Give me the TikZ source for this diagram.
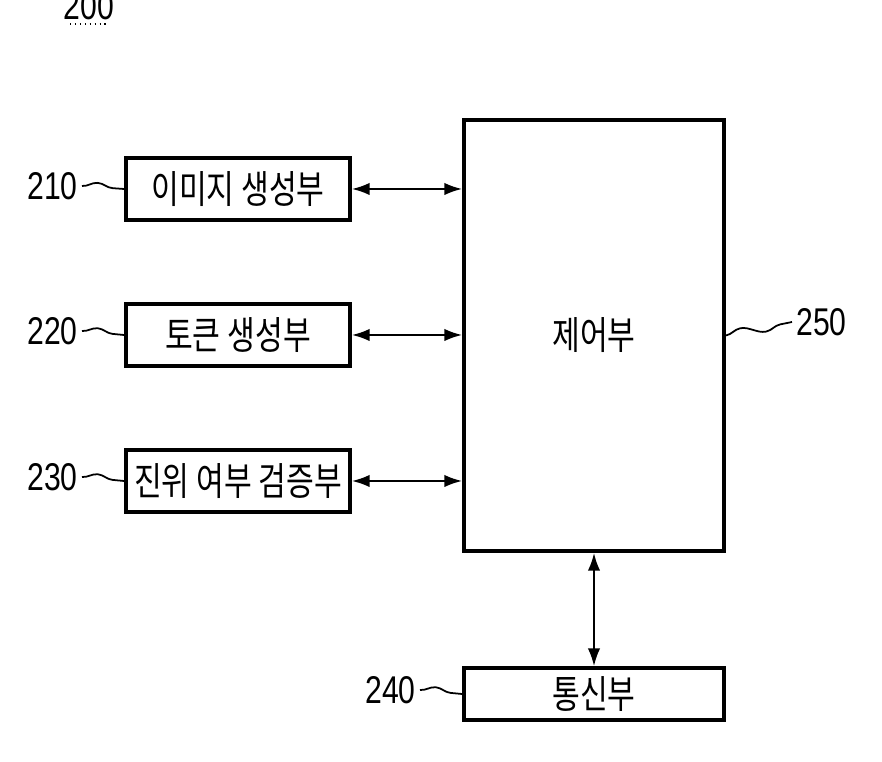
\documentclass[tikz,border=0pt]{standalone}
\usepackage{fontspec}
\setmainfont{Liberation Sans}
\newfontfamily\cjk{Noto Sans CJK KR}
\usetikzlibrary{decorations.pathmorphing,arrows.meta}
\newcommand{\kt}[1]{\scalebox{0.78}[1]{\cjk\fontsize{11}{12}\selectfont #1}}
\newcommand{\nt}[1]{\scalebox{0.78}[1]{\fontsize{11}{12}\selectfont #1}}
\begin{document}
\begin{tikzpicture}[x=0.01cm,y=-0.01cm,
  blk/.style={draw,line width=1.1pt,inner sep=0pt},
  arr/.style={line width=0.5pt,{Latex[length=5pt,width=3.5pt]}-{Latex[length=5pt,width=3.5pt]}},
  sq/.style={line width=0.5pt,decorate,decoration={snake,amplitude=1.2pt,segment length=14pt}},
  lab/.style={inner sep=1pt}]
\useasboundingbox (0,0) rectangle (882,762);
\node[blk,minimum width=2.24cm,minimum height=0.62cm] (a) at (238,189) {\kt{이미지 생성부}};
\node[blk,minimum width=2.24cm,minimum height=0.62cm] (b) at (238,335) {\kt{토큰 생성부}};
\node[blk,minimum width=2.24cm,minimum height=0.62cm] (c) at (238,481) {\kt{진위 여부 검증부}};
\node[blk,minimum width=2.6cm,minimum height=4.31cm] (e) at (594,335.5) {\kt{제어부}};
\node[blk,minimum width=2.6cm,minimum height=0.52cm] (d) at (594,694) {\kt{통신부}};
\draw[arr] (a.east) -- (a.east -| e.west);
\draw[arr] (b.east) -- (b.east -| e.west);
\draw[arr] (c.east) -- (c.east -| e.west);
\draw[arr] (e.south) -- (d.north);
\node[lab,anchor=east] (la) at (82,186) {\nt{210}};
\node[lab,anchor=east] (lb) at (82,331) {\nt{220}};
\node[lab,anchor=east] (lc) at (82,477) {\nt{230}};
\node[lab,anchor=east] (ld) at (420,690) {\nt{240}};
\node[lab,anchor=west] (le) at (792,322) {\nt{250}};
\node[lab] (t) at (89,6) {\nt{200}};
\draw[line width=0.4pt,densely dotted] (70,24) -- (108,24);
\draw[sq] (la.east) -- (a.west);
\draw[sq] (lb.east) -- (b.west);
\draw[sq] (lc.east) -- (c.west);
\draw[sq] (ld.east) -- (d.west);
\draw[sq] (e.east) -- (le.west);
\end{tikzpicture}
\end{document}
